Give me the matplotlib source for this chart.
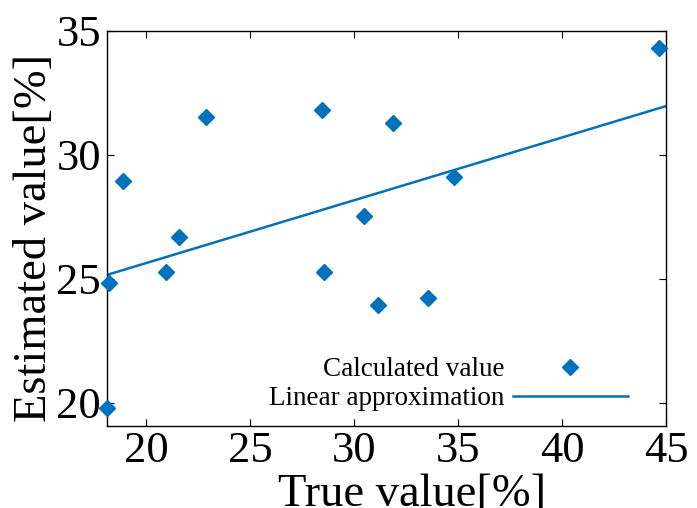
import matplotlib
matplotlib.use("Agg")
import matplotlib.pyplot as plt
import numpy as np

true_vals = [18.12, 18.23, 18.89, 20.96, 21.59, 22.88, 28.46, 28.56, 30.48, 31.15, 31.88, 33.56, 34.81, 44.68]
est_vals = [19.77, 24.81, 28.94, 25.27, 26.68, 31.52, 31.80, 25.27, 27.53, 23.94, 31.28, 24.22, 29.10, 34.31]
line_x = [18.1, 45.0]
line_y = [25.15, 31.96]
x_ticks = [20, 25, 30, 35, 40, 45]
y_ticks = [20, 25, 30, 35]

plt.rcParams['font.family'] = ['Liberation Serif', 'DejaVu Serif']
color = '#0072BD'

fig = plt.figure(figsize=(6.97, 5.08), dpi=100)
ax = fig.add_axes([0.1528, 0.1622, 0.9555 - 0.1528, 0.9396 - 0.1622])
ax.plot(true_vals, est_vals, linestyle='none', marker='D', markersize=8.5,
        color=color, label='Calculated value', clip_on=False, zorder=3)
ax.plot(line_x, line_y, color=color, linewidth=1.8, label='Linear approximation')
ax.set_xlim(18.1, 45)
ax.set_ylim(19.08, 35)
ax.set_xticks(x_ticks)
ax.set_yticks(y_ticks)
ax.tick_params(direction='in', top=True, right=True, labelsize=32, length=5, width=0.8, pad=4)
ax.set_xlabel('True value[%]', fontsize=33.5, labelpad=1.5)
ax.xaxis.label.set_x(0.5456)
ax.set_ylabel('Estimated value[%]', fontsize=33.5, labelpad=0.5)
ax.yaxis.label.set_y(0.475)
for s in ax.spines.values():
    s.set_linewidth(1.0)
ax.legend(loc='lower right', bbox_to_anchor=(0.956, 0.002), frameon=False, markerfirst=False,
          fontsize=19.5, handlelength=4.25, handletextpad=0.3, labelspacing=0.15, borderpad=0)
fig.savefig('out.png', dpi=100)
